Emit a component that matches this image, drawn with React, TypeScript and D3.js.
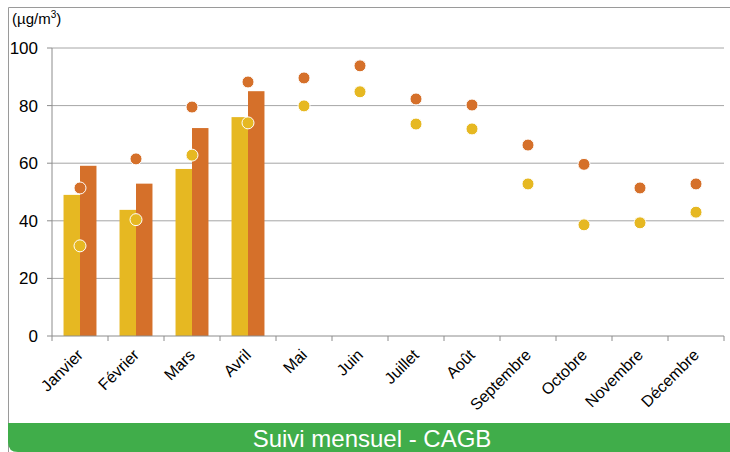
import { scaleBand, scaleLinear } from "d3";

const months = [
  "Janvier", "Février", "Mars", "Avril", "Mai", "Juin",
  "Juillet", "Août", "Septembre", "Octobre", "Novembre", "Décembre",
];
// monthly bars (only first four months measured)
const barMonths = ["Janvier", "Février", "Mars", "Avril"];
const barYellow = [49, 43.8, 58, 76];
const barOrange = [59.1, 52.9, 72.2, 85];
// dots for every month
const dotYellow = [31.3, 40.4, 62.8, 74, 79.9, 84.8, 73.6, 71.9, 52.8, 38.6, 39.3, 43];
const dotOrange = [51.4, 61.5, 79.5, 88.2, 89.6, 93.8, 82.3, 80.2, 66.3, 59.6, 51.4, 52.8];
const yTicks = [0, 20, 40, 60, 80, 100];

const YELLOW = "#E6B822";
const ORANGE = "#D5702A";
const FONT = "'Liberation Sans', Arial, sans-serif";

export default function App() {
  const W = 730;
  const H = 452;
  const margin = { top: 48, right: 6, bottom: 116, left: 52 };

  const x = scaleBand().domain(months).range([margin.left, W - margin.right]);
  const x1 = scaleBand()
    .domain(["y", "o"])
    .range([0, x.bandwidth()])
    .paddingInner(0)
    .paddingOuter(0.7);
  const y = scaleLinear().domain([0, 100]).range([H - margin.bottom, margin.top]);

  const cx = (m: string) => (x(m) as number) + x.bandwidth() / 2;

  return (
    <svg
      width={W}
      height={H}
      style={{ position: "absolute", left: 0, top: 0, background: "#fff" }}
      fontFamily={FONT}
    >
      {/* frame */}
      <path d="M8.5,452 L8.5,7.5 L740,7.5" fill="none" stroke="#9a9a9a" strokeWidth={1} />
      <path d="M8,423 L740,423 L740,452 L18,452 Q8,452 8,442 Z" fill="#40AD4A" />
      <text x={372} y={447} textAnchor="middle" fill="#fff" fontSize={24}>
        Suivi mensuel - CAGB
      </text>

      <text x={12} y={24} fontSize={15} fill="#000">
        (µg/m<tspan dy={-6} fontSize={10}>3</tspan><tspan dy={6}>)</tspan>
      </text>

      {/* grid */}
      {yTicks.map((t) => (
        <g key={t}>
          {t > 0 && (
            <line
              x1={margin.left}
              x2={W - margin.right}
              y1={y(t)}
              y2={y(t)}
              stroke="#a6a6a6"
              strokeWidth={1}
            />
          )}
          <line x1={margin.left - 5} x2={margin.left} y1={y(t)} y2={y(t)} stroke="#8c8c8c" />
          <text x={margin.left - 14} y={y(t) + 6} textAnchor="end" fontSize={17} fill="#000">
            {t}
          </text>
        </g>
      ))}

      {/* bars */}
      {barMonths.map((m, i) => (
        <g key={m}>
          <rect
            x={(x(m) as number) + (x1("y") as number)}
            y={y(barYellow[i])}
            width={x1.bandwidth()}
            height={y(0) - y(barYellow[i])}
            fill={YELLOW}
          />
          <rect
            x={(x(m) as number) + (x1("o") as number)}
            y={y(barOrange[i])}
            width={x1.bandwidth()}
            height={y(0) - y(barOrange[i])}
            fill={ORANGE}
          />
        </g>
      ))}

      {/* axes */}
      <line x1={margin.left} x2={margin.left} y1={margin.top} y2={y(0)} stroke="#8c8c8c" />
      <line x1={margin.left} x2={W - margin.right} y1={y(0)} y2={y(0)} stroke="#8c8c8c" />
      {[...months.map((m) => x(m) as number), W - margin.right].map((t, i) => (
        <line key={i} x1={t} x2={t} y1={y(0)} y2={y(0) + 5} stroke="#8c8c8c" />
      ))}

      {/* dots */}
      {months.map((m, i) => (
        <g key={m}>
          <circle cx={cx(m)} cy={y(dotOrange[i])} r={6} fill={ORANGE} stroke="#fff" strokeWidth={1} />
          <circle cx={cx(m)} cy={y(dotYellow[i])} r={6} fill={YELLOW} stroke="#fff" strokeWidth={1} />
        </g>
      ))}

      {/* x labels */}
      {months.map((m) => (
        <text
          key={m}
          transform={`translate(${cx(m) + 4},${y(0) + 20}) rotate(-45)`}
          textAnchor="end"
          fontSize={16}
          fill="#000"
        >
          {m}
        </text>
      ))}
    </svg>
  );
}
